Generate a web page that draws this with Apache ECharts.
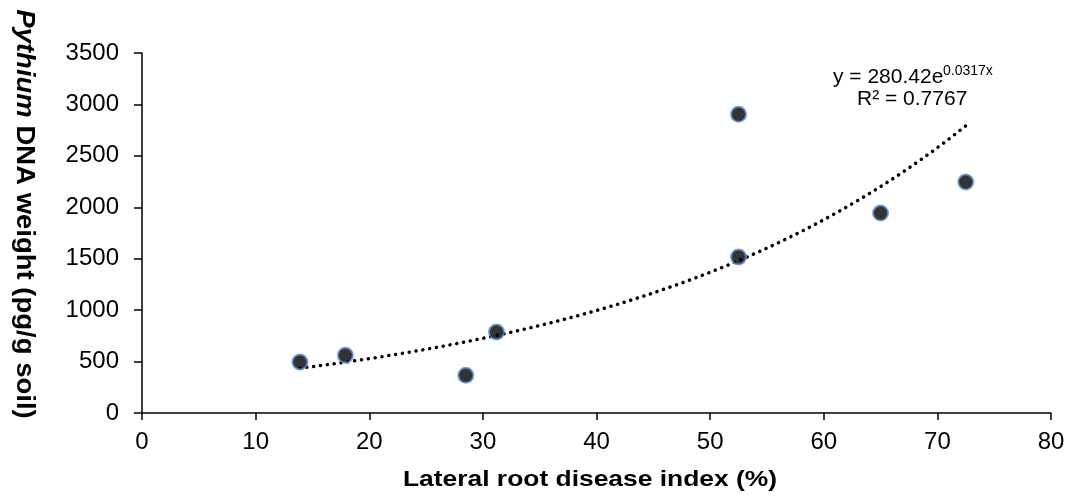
<!DOCTYPE html>
<html>
<head>
<meta charset="utf-8">
<script src="https://cdn.jsdelivr.net/npm/echarts@6/dist/echarts.min.js"></script>
<style>
  html, body { margin: 0; padding: 0; background: #fff; }
  #chart { width: 1070px; height: 504px; }
</style>
</head>
<body>
<div id="chart"></div>
<script>
// Lateral root disease index (%) and Pythium DNA weight (pg/g soil) per sample
const diseaseIndex = [13.9, 17.9, 28.5, 31.2, 52.5, 52.5, 65.0, 72.5];
const dnaWeight = [496, 561, 366, 787, 2904, 1517, 1944, 2246];

// Exponential trendline y = a * e^(b x)
const trendA = 280.42;
const trendB = 0.0317;
const trendR2 = '0.7767';

const xTicks = { min: 0, max: 80, interval: 10 };
const yTicks = { min: 0, max: 3500, interval: 500 };

const points = diseaseIndex.map((x, i) => [x, dnaWeight[i]]);

// Trendline sampled across the range of the observed x values
const xLo = Math.min(...diseaseIndex);
const xHi = Math.max(...diseaseIndex);
const trend = [];
for (let k = 0; k <= 60; k++) {
  const x = xLo + (xHi - xLo) * k / 60;
  trend.push([x, trendA * Math.exp(trendB * x)]);
}

const font = 'Liberation Sans, Arial, sans-serif';
const chart = echarts.init(document.getElementById('chart'));
chart.setOption({
  animation: false,
  backgroundColor: '#fff',
  grid: { left: 142, right: 19, top: 53, bottom: 91 },
  xAxis: {
    type: 'value',
    min: xTicks.min, max: xTicks.max, interval: xTicks.interval,
    splitLine: { show: false },
    axisLine: { show: true, onZero: false, lineStyle: { color: '#000', width: 1.5 } },
    axisTick: { show: true, length: 7, lineStyle: { color: '#000', width: 1.5 } },
    axisLabel: { color: '#000', fontSize: 24, fontFamily: font, margin: 17 }
  },
  yAxis: {
    type: 'value',
    min: yTicks.min, max: yTicks.max, interval: yTicks.interval,
    splitLine: { show: false },
    axisLine: { show: true, lineStyle: { color: '#000', width: 1.5 } },
    axisTick: { show: true, length: 8, lineStyle: { color: '#000', width: 1.5 } },
    axisLabel: { color: '#000', fontSize: 24, fontFamily: font, margin: 23, formatter: v => String(v) }
  },
  series: [
    {
      type: 'line',
      data: trend,
      showSymbol: false,
      lineStyle: { color: '#000', width: 3.5, type: [0.1, 6.8], cap: 'round' },
      silent: true,
      z: 1
    },
    {
      type: 'scatter',
      data: points,
      symbol: 'circle',
      symbolSize: 15,
      itemStyle: { color: '#000', borderColor: '#5b8fd2', borderWidth: 2 },
      z: 3
    }
  ],
  graphic: [
    // Axis titles
    {
      type: 'text',
      x: 590, y: 480,
      scaleX: 1.2,
      style: {
        text: 'Lateral root disease index (%)',
        fontSize: 22, fontWeight: 'bold', fontFamily: font, fill: '#000',
        align: 'center', verticalAlign: 'middle'
      }
    },
    {
      type: 'text',
      x: 24, y: 214,
      rotation: -Math.PI / 2,
      scaleX: 1.1,
      style: {
        text: '{i|Pythium} DNA weight (pg/g soil)',
        fontSize: 25, fontWeight: 'bold', fontFamily: font, fill: '#000',
        align: 'center', verticalAlign: 'middle',
        rich: { i: { fontStyle: 'italic', fontWeight: 'bold', fontSize: 25, fontFamily: font, fill: '#000' } }
      }
    },
    // Trendline equation and R²
    {
      type: 'text',
      x: 833, y: 77,
      style: { text: 'y = 280.42e', fontSize: 21, fontFamily: font, fill: '#000', verticalAlign: 'middle' }
    },
    {
      type: 'text',
      x: 943, y: 71,
      style: { text: '0.0317x', fontSize: 14, fontFamily: font, fill: '#000', verticalAlign: 'middle' }
    },
    {
      type: 'text',
      x: 857, y: 99,
      style: { text: 'R² = ' + trendR2, fontSize: 21, fontFamily: font, fill: '#000', verticalAlign: 'middle' }
    }
  ]
});
</script>
</body>
</html>
